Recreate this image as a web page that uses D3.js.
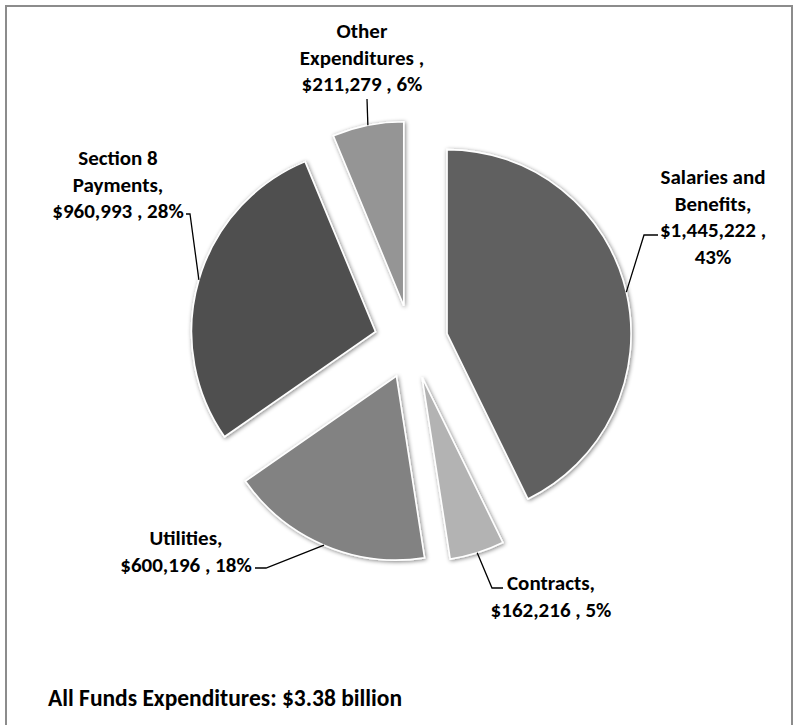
<!DOCTYPE html>
<html>
<head>
<meta charset="utf-8">
<script src="https://cdn.jsdelivr.net/npm/d3@7"></script>
<style>
  html, body { margin: 0; padding: 0; background: #ffffff; }
  svg { display: block; }
  text { font-family: Carlito, Calibri, Lato, "Open Sans", sans-serif; font-weight: 700; fill: #000; }
</style>
</head>
<body>
<svg id="chart" width="799" height="725"></svg>
<script>
// Expenditure categories, in clockwise order starting at 12 o'clock
const categories = ["Salaries and Benefits", "Contracts", "Utilities", "Section 8 Payments", "Other Expenditures"];
// Amounts (thousands of dollars)
const values = [1445222, 162216, 600196, 960993, 211279];
// Share of total, as printed
const percents = ["43%", "5%", "18%", "28%", "6%"];
// Label text, broken into lines
const labelLines = [
  ["Salaries and", "Benefits,", "$1,445,222 ,", "43%"],
  ["Contracts,", "$162,216 , 5%"],
  ["Utilities,", "$600,196 , 18%"],
  ["Section 8", "Payments,", "$960,993 , 28%"],
  ["Other", "Expenditures ,", "$211,279 , 6%"]
];
const fills = ["#616161", "#b3b3b3", "#828282", "#4f4f4f", "#959595"];
const caption = "All Funds Expenditures: $3.38 billion";

const W = 799, H = 725;
const cx = 411, cy = 342, radius = 184, explode = 37;
const lineGap = 26.5;

// Label placement: text centre, first-line centre y, and leader elbow points
const labelLayout = [
  { x: 713, y: 177, elbow: [[644, 235], [658, 235]] },
  { x: 551, y: 583, elbow: [[492, 588], [503, 588]] },
  { x: 186, y: 538, elbow: [[266, 568], [255, 568]] },
  { x: 118, y: 158, elbow: [[190, 214], [186, 214]] },
  { x: 362, y: 31,  elbow: [[367, 99]] }
];

const svg = d3.select("#chart");

// soft outer shadow under each wedge
const defs = svg.append("defs");
const f = defs.append("filter").attr("id", "wedgeShadow")
  .attr("x", "-20%").attr("y", "-20%").attr("width", "140%").attr("height", "140%");
f.append("feGaussianBlur").attr("in", "SourceAlpha").attr("stdDeviation", 2.2).attr("result", "blur");
f.append("feOffset").attr("in", "blur").attr("dx", 0.5).attr("dy", 1).attr("result", "off");
f.append("feComponentTransfer").attr("in", "off").attr("result", "shadow")
  .append("feFuncA").attr("type", "linear").attr("slope", 0.5);
const merge = f.append("feMerge");
merge.append("feMergeNode").attr("in", "shadow");
merge.append("feMergeNode").attr("in", "SourceGraphic");

// chart frame (left, top, right)
svg.append("path")
  .attr("d", `M6,${H} L6,6 L792,6 L792,${H}`)
  .attr("fill", "none").attr("stroke", "#8c8c8c").attr("stroke-width", 2);

const pie = d3.pie().sort(null).value(d => d);
const arcs = pie(values);
const arc = d3.arc().innerRadius(0).outerRadius(radius);

const g = svg.append("g").attr("transform", `translate(${cx},${cy})`);

const offsetOf = a => {
  const mid = (a.startAngle + a.endAngle) / 2;
  return [Math.sin(mid) * explode, -Math.cos(mid) * explode];
};

g.selectAll("path.wedge")
  .data(arcs)
  .join("path")
  .attr("class", "wedge")
  .attr("d", arc)
  .attr("transform", d => { const o = offsetOf(d); return `translate(${o[0]},${o[1]})`; })
  .attr("fill", (d, i) => fills[i])
  .attr("stroke", "#ffffff")
  .attr("stroke-width", 1.6)
  .attr("stroke-linejoin", "miter")
  .attr("filter", "url(#wedgeShadow)");

// leader lines from the wedge rim to the labels
const line = d3.line();
arcs.forEach((a, i) => {
  const mid = (a.startAngle + a.endAngle) / 2;
  const o = offsetOf(a);
  const start = [cx + o[0] + Math.sin(mid) * radius, cy + o[1] - Math.cos(mid) * radius];
  const pts = [start].concat(labelLayout[i].elbow);
  svg.append("path")
    .attr("d", line(pts))
    .attr("fill", "none")
    .attr("stroke", "#000")
    .attr("stroke-width", 1.3);
});

// labels
labelLines.forEach((lines, i) => {
  const L = labelLayout[i];
  const t = svg.append("text")
    .attr("text-anchor", "middle")
    .attr("font-size", 21);
  lines.forEach((s, k) => {
    t.append("tspan")
      .attr("x", L.x)
      .attr("y", L.y + k * lineGap)
      .attr("dy", "0.35em")
      .text(s);
  });
});

svg.append("text")
  .attr("x", 48).attr("y", 698).attr("dy", "0.35em")
  .attr("font-size", 23.5)
  .text(caption);
</script>
</body>
</html>
